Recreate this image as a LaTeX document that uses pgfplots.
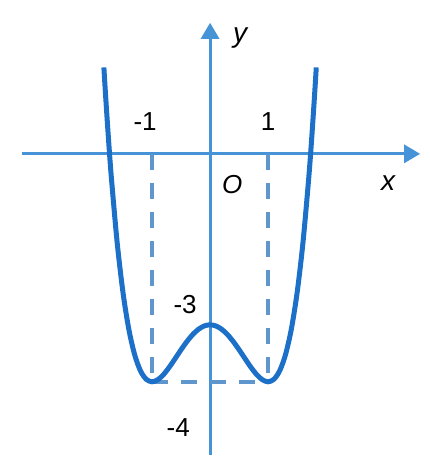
\documentclass[border=0pt]{standalone}
\usepackage{pgfplots}
\pgfplotsset{compat=1.18}
\usepackage{fontspec}
\setmainfont{Liberation Sans}
\usetikzlibrary{arrows.meta}
\definecolor{curveblue}{RGB}{28,112,200}
\definecolor{axisblue}{RGB}{70,148,215}
\definecolor{dashblue}{RGB}{95,150,205}
\begin{document}
\begin{tikzpicture}
\begin{axis}[
  width=430pt, height=457pt, scale only axis,
  xmin=-3.62, xmax=3.79, ymin=-5.32, ymax=2.70,
  hide axis, clip=false,
]
\path (rel axis cs:0,0) rectangle (rel axis cs:1,1);
\draw[axisblue, line width=3pt, -{Triangle[length=16pt,width=18pt]}] (axis cs:-3.24,0) -- (axis cs:3.62,0);
\draw[axisblue, line width=3pt, -{Triangle[length=16pt,width=18pt]}] (axis cs:0,-5.28) -- (axis cs:0,2.30);
\addplot[dashblue, line width=3.5pt, dash pattern=on 16pt off 13pt] coordinates {(-1,0) (-1,-4)};
\addplot[dashblue, line width=3.5pt, dash pattern=on 16pt off 13pt] coordinates {(1,0) (1,-4)};
\addplot[dashblue, line width=3.5pt, dash pattern=on 16pt off 13pt] coordinates {(-1,-4) (1,-4)};
\addplot[curveblue, line width=5pt, smooth] coordinates {
(-1.83,1.517) (-1.8,1.0176) (-1.75,0.2539) (-1.7,-0.4279) (-1.6,-1.5664) (-1.5,-2.4375)
(-1.4,-3.0784) (-1.3,-3.5239) (-1.2,-3.8064) (-1.1,-3.9559) (-1.0,-4) (-0.9,-3.9639)
(-0.8,-3.8704) (-0.7,-3.7399) (-0.6,-3.5904) (-0.5,-3.4375) (-0.4,-3.2944) (-0.3,-3.1719)
(-0.2,-3.0784) (-0.1,-3.0199) (0,-3) (0.1,-3.0199) (0.2,-3.0784) (0.3,-3.1719)
(0.4,-3.2944) (0.5,-3.4375) (0.6,-3.5904) (0.7,-3.7399) (0.8,-3.8704) (0.9,-3.9639)
(1.0,-4) (1.1,-3.9559) (1.2,-3.8064) (1.3,-3.5239) (1.4,-3.0784) (1.5,-2.4375)
(1.6,-1.5664) (1.7,-0.4279) (1.75,0.2539) (1.8,1.0176) (1.83,1.517)
};
\node[font=\fontsize{26}{30}\selectfont] at (axis cs:-1.12,0.56) {-1};
\node[font=\fontsize{26}{30}\selectfont] at (axis cs:1.0,0.56) {1};
\node[font=\fontsize{26}{30}\selectfont\itshape] at (axis cs:0.38,-0.54) {O};
\node[font=\fontsize{28}{30}\selectfont\itshape] at (axis cs:3.07,-0.51) {x};
\node[font=\fontsize{28}{30}\selectfont\itshape] at (axis cs:0.52,2.04) {y};
\node[font=\fontsize{26}{30}\selectfont] at (axis cs:-0.43,-2.65) {-3};
\node[font=\fontsize{26}{30}\selectfont] at (axis cs:-0.55,-4.81) {-4};
\end{axis}
\end{tikzpicture}
\end{document}
